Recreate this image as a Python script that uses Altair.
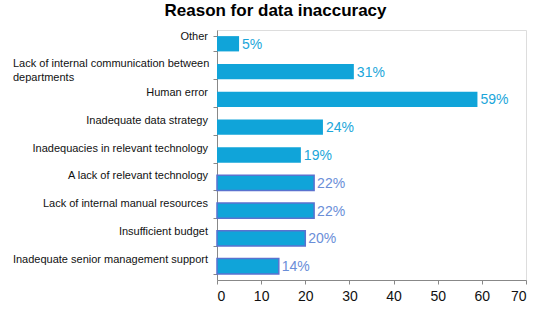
import altair as alt
import pandas as pd

categories = [
    "Other",
    "Lack of internal communication between departments",
    "Human error",
    "Inadequate data strategy",
    "Inadequacies in relevant technology",
    "A lack of relevant technology",
    "Lack of internal manual resources",
    "Insufficient budget",
    "Inadequate senior management support",
]
values = [5, 31, 59, 24, 19, 22, 22, 20, 14]
x_ticks = [0, 10, 20, 30, 40, 50, 60, 70]
outlined = categories[5:]
wrapped = categories[1]
wrapped_text = "Lack of internal communication between\ndepartments"

df = pd.DataFrame({"cat": categories, "val": values})
df["lab"] = df["val"].astype(str) + "%"

y = alt.Y(
    "cat:N",
    sort=categories,
    scale=alt.Scale(paddingInner=0.45, paddingOuter=0.22),
    axis=alt.Axis(
        title=None,
        labels=False,
        tickBand="extent",
        tickSize=4,
        tickColor="#888888",
        domainColor="#888888",
        grid=False,
    ),
)
x = alt.X(
    "val:Q",
    scale=alt.Scale(domain=[0, 70], nice=False),
    axis=alt.Axis(
        title=None,
        values=x_ticks,
        labelFont="Liberation Sans",
        labelFontSize=14,
        labelColor="#111111",
        labelPadding=5,
        tickSize=4,
        tickColor="#888888",
        domainColor="#888888",
        grid=False,
    ),
)
ysort = alt.Y("cat:N", sort=categories)

is_out = alt.FieldOneOfPredicate(field="cat", oneOf=outlined)

bars = alt.Chart(df).mark_bar(color="#10A4D9").encode(
    y=y,
    x=x,
    stroke=alt.condition(is_out, alt.value("#5A72CF"), alt.value("#10A4D9")),
    strokeWidth=alt.condition(is_out, alt.value(1.5), alt.value(0)),
)
text = alt.Chart(df).mark_text(
    align="left", baseline="middle", dx=3, dy=1, font="Liberation Sans", fontSize=14
).encode(
    y=ysort,
    x="val:Q",
    text="lab:N",
    color=alt.condition(is_out, alt.value("#6A8ED8"), alt.value("#1BA6DA")),
)

ylab = alt.Chart(df).transform_filter(
    alt.datum.cat != wrapped
).mark_text(
    align="right", baseline="middle", dy=-6.5, font="Liberation Sans", fontSize=11, color="#111111"
).encode(y=ysort, x=alt.value(-9), text="cat:N")

ylab2 = alt.Chart(df).transform_filter(
    alt.datum.cat == wrapped
).mark_text(
    align="left", baseline="middle", dy=-8, lineBreak="\n", lineHeight=14,
    font="Liberation Sans", fontSize=11, color="#111111"
).encode(y=ysort, x=alt.value(-204), text=alt.value(wrapped_text))

chart = (
    alt.layer(bars, text, ylab, ylab2)
    .properties(
        width=309,
        height=250,
        title=alt.TitleParams(
            "Reason for data inaccuracy",
            font="Liberation Sans",
            fontSize=17,
            fontWeight="bold",
            color="#000000",
            anchor="middle",
            offset=10,
            dx=-96,
        ),
        autosize=alt.AutoSizeParams(type="none"),
        padding={"left": 217, "top": 30, "right": 18, "bottom": 41},
    )
    .configure_view(stroke=None)
    .configure(background="white")
)

chart.save("out.html", embed_options={"renderer": "svg", "actions": False})
